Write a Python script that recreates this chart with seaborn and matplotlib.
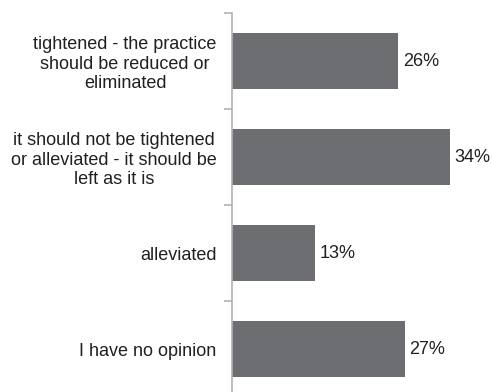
import matplotlib
matplotlib.use("Agg")
import matplotlib.pyplot as plt
import seaborn as sns
import pandas as pd
from matplotlib.ticker import FixedLocator

categories = [
    "tightened - the practice\nshould be reduced or\neliminated",
    "it should not be tightened\nor alleviated - it should be\nleft as it is",
    "alleviated",
    "I have no opinion",
]
values = [26, 34, 13, 27]
value_labels = ["26%", "34%", "13%", "27%"]

sns.set_theme(style="white")
plt.rcParams["font.family"] = ["Liberation Sans", "DejaVu Sans"]

df = pd.DataFrame({"category": categories, "value": values})

fig = plt.figure(figsize=(4.92, 3.92), dpi=100)
ax = fig.add_axes([232 / 492, -5 / 392, 256 / 492, 384 / 392])

sns.barplot(data=df, y="category", x="value", orient="h", color="#6d6e71",
            saturation=1, width=0.58, ax=ax)
for p in ax.patches:
    p.set_edgecolor("none")

ax.set_xlim(0, 40)
ax.set_ylim(3.5, -0.5)

for bar, lab in zip(ax.patches, value_labels):
    ax.text(bar.get_width() + 0.7, bar.get_y() + bar.get_height() / 2, lab,
            va="center", ha="left", fontsize=13, color="#231f20")

ax.set_xlabel("")
ax.set_ylabel("")
ax.set_xticks([])
for s in ["top", "right", "bottom"]:
    ax.spines[s].set_visible(False)
ax.spines["left"].set_color("#b3b3b3")
ax.spines["left"].set_linewidth(1.2)

ax.yaxis.set_minor_locator(FixedLocator([-0.5, 0.5, 1.5, 2.5, 3.5]))
ax.tick_params(axis="y", which="major", length=0, pad=11,
               labelsize=13, labelcolor="#231f20")
ax.tick_params(axis="y", which="minor", left=True, length=6, width=1.2,
               color="#b3b3b3")
for t in ax.get_yticklabels():
    t.set_multialignment("center")

fig.savefig("out.png", dpi=100)
